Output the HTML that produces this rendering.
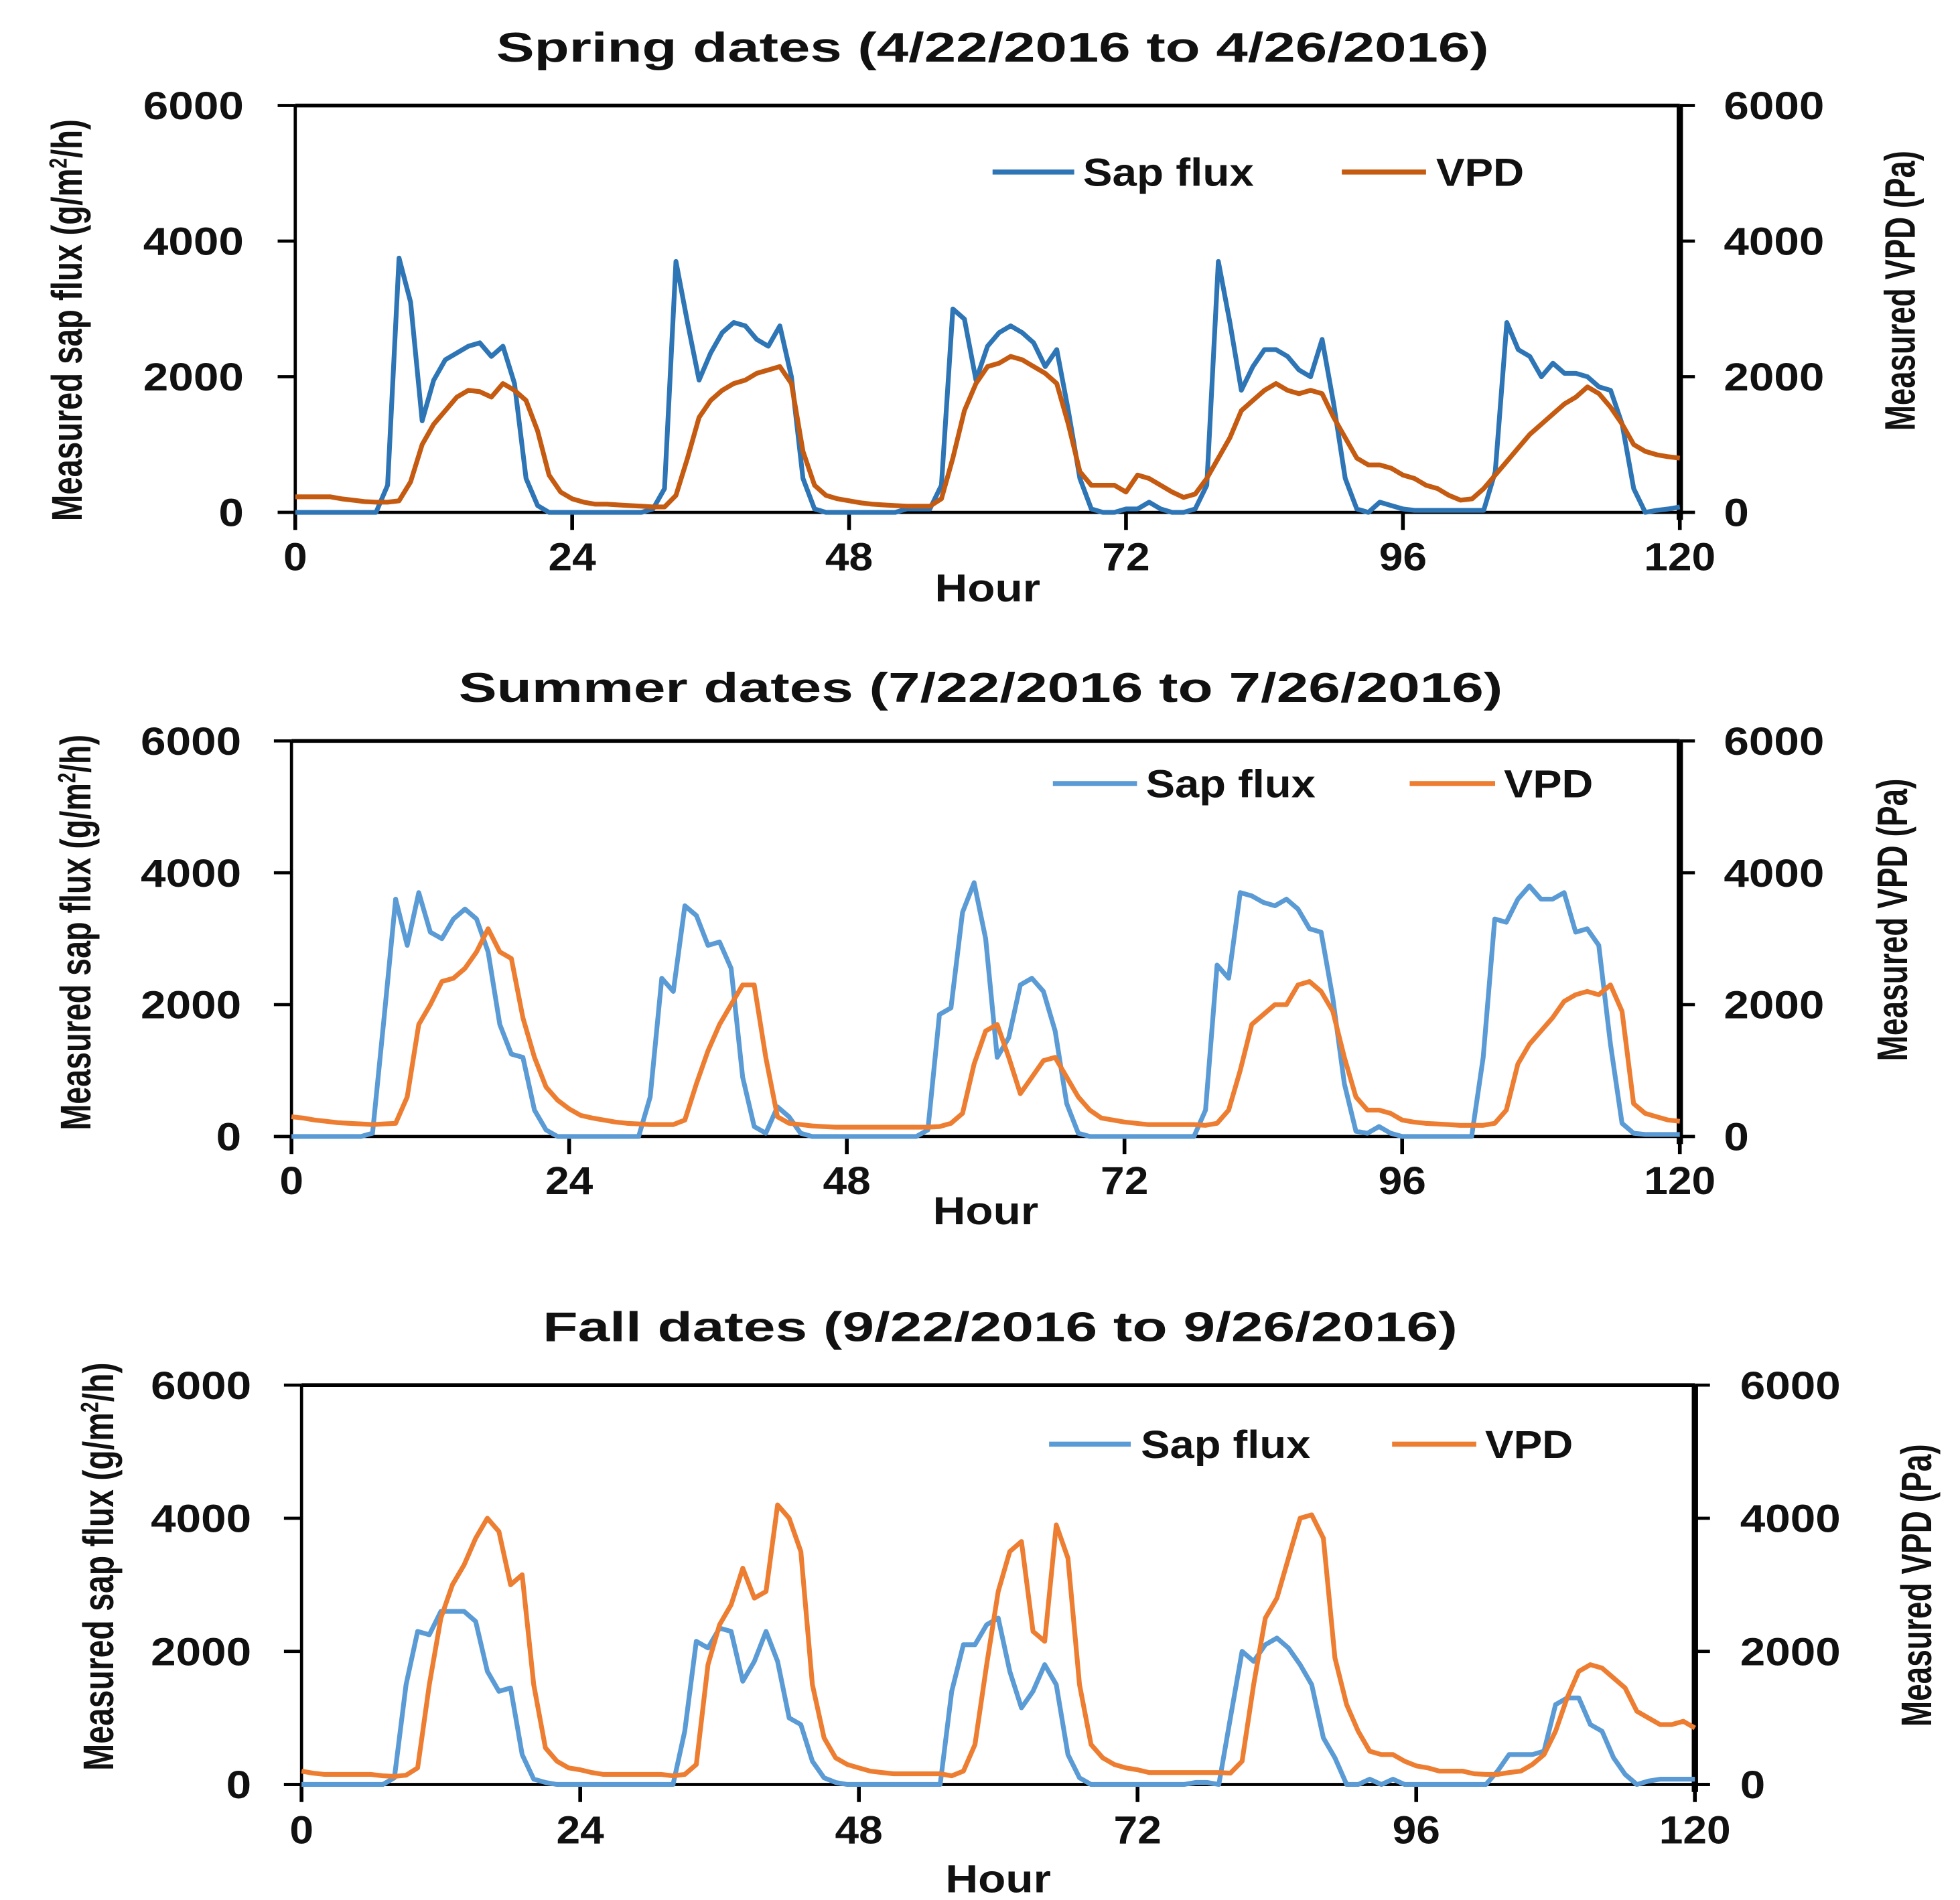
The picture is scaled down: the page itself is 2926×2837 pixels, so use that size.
<!DOCTYPE html>
<html><head><meta charset="utf-8"><title>Sap flux and VPD</title>
<style>html,body{margin:0;padding:0;background:#fff;}svg{display:block;}text{font-family:"Liberation Sans",sans-serif;font-weight:bold;fill:#111;}</style>
</head><body>
<svg id="chart" width="2926" height="2837" viewBox="0 0 1560 1513" preserveAspectRatio="none" xmlns="http://www.w3.org/2000/svg"></svg>
<script>
const xTicks = [0, 24, 48, 72, 96, 120];
const yTicks = [0, 2000, 4000, 6000];
const seriesNames = ["Sap flux", "VPD"];
const springTitle = "Spring dates (4/22/2016  to 4/26/2016)";
const summerTitle = "Summer dates (7/22/2016  to 7/26/2016)";
const fallTitle = "Fall dates (9/22/2016  to 9/26/2016)";
const springSap = [0,0,0,0,0,0,0,0,400,3750,3100,1350,1950,2250,2350,2450,2500,2300,2450,1900,500,100,0,0,0,0,0,0,0,0,0,50,350,3700,2800,1950,2350,2650,2800,2750,2550,2450,2750,2000,500,50,0,0,0,0,0,0,0,50,50,50,400,3000,2850,1950,2450,2650,2750,2650,2500,2150,2400,1500,500,50,0,0,50,50,150,50,0,0,50,400,3700,2800,1800,2150,2400,2400,2300,2100,2000,2550,1600,500,50,0,150,100,50,30,30,30,30,30,30,30,600,2800,2400,2300,2000,2200,2050,2050,2000,1850,1800,1300,350,0,30,50,80];
const springVpd = [230,230,230,230,200,180,160,150,150,170,450,1000,1300,1500,1700,1800,1780,1700,1900,1800,1650,1200,550,300,200,150,120,120,110,100,90,80,80,250,800,1400,1650,1800,1900,1950,2050,2100,2150,1900,900,400,250,200,170,140,120,110,100,90,90,90,200,800,1500,1900,2150,2200,2300,2250,2150,2050,1900,1300,600,400,400,400,300,550,500,400,300,220,270,500,800,1100,1500,1650,1800,1900,1800,1750,1800,1750,1400,1100,800,700,700,650,550,500,400,350,250,180,200,350,550,750,950,1150,1300,1450,1600,1700,1850,1750,1550,1300,1000,900,850,820,800];
const summerSap = [
  0,0,0,0,0,0,0,50,1800,3600,2900,3700,
  3100,3000,3300,3450,3300,2800,1700,1250,1200,400,100,0,
  0,0,0,0,0,0,0,600,2400,2200,3500,3350,
  2900,2950,2550,900,150,50,450,300,50,0,0,0,
  0,0,0,0,0,0,0,100,1850,1950,3400,3850,
  3000,1200,1500,2300,2400,2200,1600,500,50,0,0,0,
  0,0,0,0,0,0,0,400,2600,2400,3700,3650,
  3550,3500,3600,3450,3150,3100,2100,800,80,50,150,50,
  0,0,0,0,0,0,0,1200,3300,3250,3600,3800,
  3600,3600,3700,3100,3150,2900,1400,200,50,30,30,30,
  30];
const summerVpd = [
  300,280,250,230,210,200,190,180,190,200,600,1700,
  2000,2350,2400,2550,2800,3150,2800,2700,1800,1200,750,550,
  420,320,280,250,220,200,190,180,180,180,250,800,
  1300,1700,2000,2300,2300,1200,300,200,180,160,150,140,
  140,140,140,140,140,140,140,140,150,200,350,1100,
  1600,1700,1200,650,900,1150,1200,900,600,400,280,250,
  220,200,180,180,180,180,180,170,200,400,1000,1700,
  1850,2000,2000,2300,2350,2200,1900,1200,600,400,400,350,
  250,220,200,190,180,170,170,170,200,400,1100,1400,
  1600,1800,2050,2150,2200,2150,2300,1900,500,350,300,250,
  230];
const fallSap = [
  0,0,0,0,0,0,0,0,100,1500,2300,2250,
  2600,2600,2600,2450,1700,1400,1450,450,80,30,0,0,
  0,0,0,0,0,0,0,0,0,800,2150,2050,
  2350,2300,1550,1850,2300,1850,1000,900,350,100,30,0,
  0,0,0,0,0,0,0,0,1400,2100,2100,2400,
  2500,1700,1150,1400,1800,1500,450,100,0,0,0,0,
  0,0,0,0,0,30,30,0,1000,2000,1850,2100,
  2200,2050,1800,1500,700,400,0,0,80,0,80,0,
  0,0,0,0,0,0,0,200,450,450,450,500,
  1200,1300,1300,900,800,400,150,0,50,80,80,80,
  80];
const fallVpd = [
  200,170,150,150,150,150,150,130,120,140,250,1500,
  2500,3000,3300,3700,4000,3800,3000,3150,1500,550,350,250,
  220,180,150,150,150,150,150,150,130,150,300,1800,
  2400,2700,3250,2800,2900,4200,4000,3500,1500,700,400,300,
  250,200,180,160,160,160,160,160,130,200,600,1800,
  2900,3500,3650,2300,2150,3900,3400,1500,600,400,300,250,
  220,180,180,180,180,180,180,180,170,350,1500,2500,
  2800,3400,4000,4050,3700,1900,1200,800,500,450,450,350,
  280,250,200,200,200,160,150,150,180,200,300,450,
  800,1300,1700,1800,1750,1600,1450,1100,1000,900,900,950,
  850];

const NS = "http://www.w3.org/2000/svg";
const svg = document.getElementById("chart");
function mk(tag, attrs, parent) {
  const e = document.createElementNS(NS, tag);
  for (const k in attrs) e.setAttribute(k, attrs[k]);
  (parent || svg).appendChild(e);
  return e;
}

const panels = [
  {key:"spring", title:springTitle, sap:springSap, vpd:springVpd, blue:"#2e75b6", orange:"#c55a11",
   L:235, R:1337, T:84, B:408, titleY:49, titleX1:395, titleX2:1185, xlabY:454, hourY:479,
   leftTitleX:65, leftTitleY1:95, leftTitleY2:415, rightTitleX:1524, rightTitleY1:120, rightTitleY2:343,
   legY:137, leg:[790,855,862,998,1068,1135,1143,1213], ylabL:194, ylabR:1372},
  {key:"summer", title:summerTitle, sap:summerSap, vpd:summerVpd, blue:"#5b9bd5", orange:"#ed7d31",
   L:232, R:1337, T:590, B:905, titleY:559, titleX1:365, titleX2:1196, xlabY:951, hourY:975,
   leftTitleX:72, leftTitleY1:585, leftTitleY2:900, rightTitleX:1518, rightTitleY1:620, rightTitleY2:845,
   legY:624, leg:[838,905,912,1047,1122,1190,1197,1268], ylabL:192, ylabR:1372},
  {key:"fall", title:fallTitle, sap:fallSap, vpd:fallVpd, blue:"#5b9bd5", orange:"#ed7d31",
   L:240, R:1349, T:1103, B:1421, titleY:1068, titleX1:432, titleX2:1160, xlabY:1468, hourY:1507,
   leftTitleX:90, leftTitleY1:1085, leftTitleY2:1410, rightTitleX:1537, rightTitleY1:1150, rightTitleY2:1375,
   legY:1150, leg:[835,900,908,1043,1108,1175,1182,1252], ylabL:200, ylabR:1385}
];

panels.forEach(p => {
  const g = mk("g", {});
  
  
  const xs = v => p.L + (v / 120) * (p.R - p.L);
  const ys = v => p.B - (v / 6000) * (p.B - p.T);

  const t = mk("text", {x:p.titleX1, y:p.titleY, "font-size":33, textLength:p.titleX2-p.titleX1, lengthAdjust:"spacingAndGlyphs"}, g);
  t.textContent = p.title;
  
  

  const ax = mk("g", {stroke:"#000", fill:"none"}, g);
  
  
  mk("line", {x1:p.L, y1:p.T, x2:p.R, y2:p.T, "stroke-width":3}, ax);
  mk("line", {x1:p.L, y1:p.T, x2:p.L, y2:p.B+2, "stroke-width":2.5}, ax);
  mk("line", {x1:p.R, y1:p.T, x2:p.R, y2:p.B+6, "stroke-width":5}, ax);
  mk("line", {x1:p.L-14, y1:p.B, x2:p.R+12, y2:p.B, "stroke-width":2.5}, ax);
  yTicks.forEach(v => {
    mk("line", {x1:p.L-14, y1:ys(v), x2:p.L, y2:ys(v), "stroke-width":2.5}, ax);
    mk("line", {x1:p.R, y1:ys(v), x2:p.R+12, y2:ys(v), "stroke-width":2.5}, ax);
    const tl = mk("text", {x:p.ylabL, y:ys(v)+11, "font-size":31, "text-anchor":"end", textLength:String(v).length*20, lengthAdjust:"spacingAndGlyphs"}, g);
    tl.textContent = String(v);
    
    
    const tr = mk("text", {x:p.ylabR, y:ys(v)+11, "font-size":31, textLength:String(v).length*20, lengthAdjust:"spacingAndGlyphs"}, g);
    tr.textContent = String(v);
    
    
  });
  xTicks.forEach(v => {
    mk("line", {x1:xs(v), y1:p.B, x2:xs(v), y2:p.B+14, "stroke-width":3}, ax);
    const tx = mk("text", {x:xs(v), y:p.xlabY, "font-size":31, "text-anchor":"middle", textLength:String(v).length*19, lengthAdjust:"spacingAndGlyphs"}, g);
    tx.textContent = String(v);
    
    
  });
  const hx = mk("text", {x:(p.L+p.R)/2, y:p.hourY, "font-size":31, "text-anchor":"middle", textLength:84, lengthAdjust:"spacingAndGlyphs"}, g);
  hx.textContent = "Hour";
  
  

  const lt = mk("text", {x:0, y:0, "font-size":34, "text-anchor":"middle", textLength:p.leftTitleY2-p.leftTitleY1, lengthAdjust:"spacingAndGlyphs",
    transform:`translate(${p.leftTitleX},${(p.leftTitleY1+p.leftTitleY2)/2}) rotate(-90)`}, g);
  lt.innerHTML = 'Measured sap flux (g/m<tspan font-size="20" dy="-12">2</tspan><tspan dy="12">/h)</tspan>';
  
  
  const rt = mk("text", {x:0, y:0, "font-size":34, "text-anchor":"middle", textLength:p.rightTitleY2-p.rightTitleY1, lengthAdjust:"spacingAndGlyphs",
    transform:`translate(${p.rightTitleX},${(p.rightTitleY1+p.rightTitleY2)/2}) rotate(-90)`}, g);
  rt.textContent = "Measured VPD (Pa)";
  
  

  [[p.sap, p.blue, "sap-flux-line"], [p.vpd, p.orange, "vpd-line"]].forEach(s => {
    const pts = s[0].map((v, i) => xs(i).toFixed(1) + "," + ys(v).toFixed(1)).join(" ");
    const pl = mk("polyline", {points:pts, fill:"none", stroke:s[1], "stroke-width":3.8, "stroke-linejoin":"round"}, g);
    
    
  });

  const lg = mk("g", {}, g);
  
  
  const L = p.leg;
  mk("line", {x1:L[0], y1:p.legY, x2:L[1], y2:p.legY, stroke:p.blue, "stroke-width":4}, lg);
  const l1 = mk("text", {x:L[2], y:p.legY+11, "font-size":31, textLength:L[3]-L[2], lengthAdjust:"spacingAndGlyphs"}, lg);
  l1.textContent = seriesNames[0];
  
  
  mk("line", {x1:L[4], y1:p.legY, x2:L[5], y2:p.legY, stroke:p.orange, "stroke-width":4}, lg);
  const l2 = mk("text", {x:L[6], y:p.legY+11, "font-size":31, textLength:L[7]-L[6], lengthAdjust:"spacingAndGlyphs"}, lg);
  l2.textContent = seriesNames[1];
  
  
});
</script>
</body></html>
